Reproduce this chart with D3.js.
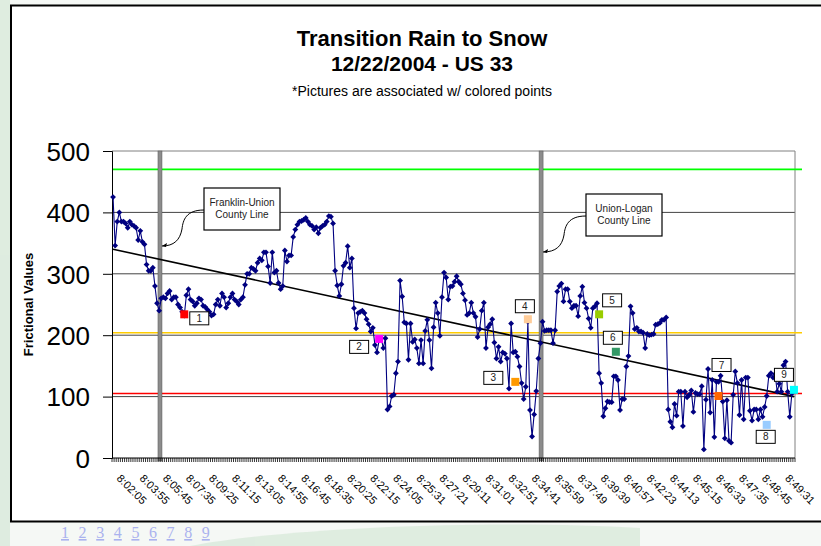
<!DOCTYPE html>
<html>
<head>
<meta charset="utf-8">
<title>Transition Rain to Snow</title>
<script src="https://cdn.jsdelivr.net/npm/d3@7"></script>
<style>
  html, body { margin:0; padding:0; overflow:hidden; background:#f5f8f5; }
  svg { display:block; font-family: Arial, "Liberation Sans", sans-serif; }
</style>
</head>
<body>
<svg width="821" height="546"></svg>
<script>
// friction readings, one per sample (10 s apart)
const frictionValues = [
  425, 346, 385, 400, 385, 385, 382, 375, 385, 380,
  378, 375, 355, 370, 352, 348, 315, 305, 305, 310,
  280, 252, 240, 260, 262, 260, 268, 272, 258, 262,
  262, 250, 245, 238, 232, 265, 275, 258, 255, 248,
  252, 260, 258, 248, 246, 242, 238, 232, 234, 250,
  258, 248, 268, 262, 245, 252, 262, 268, 258, 255,
  250, 258, 262, 282, 300, 300, 310, 308, 305, 318,
  325, 322, 335, 335, 312, 285, 335, 302, 305, 285,
  275, 280, 338, 320, 330, 330, 360, 372, 380, 385,
  386, 388, 391, 385, 380, 378, 372, 376, 366, 375,
  378, 380, 385, 394, 393, 382, 305, 281, 264, 283,
  313, 318, 345, 310, 325, 244, 211, 236, 238, 240,
  236, 226, 218, 206, 212, 184, 172, 192, 195, 179,
  195, 79, 84, 101, 103, 138, 157, 289, 263, 221,
  219, 160, 219, 189, 193, 179, 154, 192, 154, 207,
  225, 192, 146, 213, 253, 236, 199, 262, 302, 294,
  258, 279, 280, 287, 296, 287, 283, 268, 257, 233,
  236, 253, 236, 230, 197, 210, 240, 253, 179, 213,
  218, 226, 188, 162, 181, 157, 172, 170, 162, 113,
  219, 172, 173, 165, 149, 122, 96, 116, 222, 78,
  35, 71, 109, 162, 187, 222, 207, 208, 208, 208,
  187, 208, 271, 280, 284, 255, 275, 275, 255, 244,
  248, 248, 231, 264, 279, 253, 244, 227, 212, 244,
  247, 252, 138, 122, 68, 81, 92, 91, 91, 133,
  133, 127, 78, 96, 96, 149, 166, 247, 236, 210,
  212, 206, 206, 204, 179, 202, 200, 201, 202, 217,
  218, 220, 225, 225, 229, 79, 59, 50, 88, 69,
  108, 108, 52, 108, 99, 103, 110, 75, 106, 104,
  104, 117, 14, 95, 145, 74, 127, 34, 124, 124,
  134, 92, 32, 94, 28, 25, 103, 141, 122, 70,
  127, 63, 131, 131, 77, 61, 79, 79, 63, 79,
  67, 83, 101, 134, 138, 131, 137, 108, 121, 108,
  151, 157, 108, 67, 105
];
const categoryCount = 326;
const tickEvery = 11;
const tickLabels = [
  "8:02:05", "8:03:55", "8:05:45", "8:07:35", "8:09:25", "8:11:15", "8:13:05", "8:14:55",
  "8:16:45", "8:18:35", "8:20:25", "8:22:15", "8:24:05", "8:25:31", "8:27:21", "8:29:11",
  "8:31:01", "8:32:51", "8:34:41", "8:35:59", "8:37:49", "8:39:39", "8:40:57", "8:42:23",
  "8:44:13", "8:45:15", "8:46:33", "8:47:35", "8:48:45", "8:49:31"
];
const yTicks = [0, 100, 200, 300, 400, 500];
const thresholdValues = [470, 204, 105];
const thresholdColors = ["#00ff00", "#ffcc00", "#ff0000"];
const trendEnds = [340, 100];
const countyAt = [22.4, 204.3];
const countyNames = [["Franklin-Union", "County Line"], ["Union-Logan", "County Line"]];
const pictureIndex = [34, 127, 192, 198, 232, 240, 289, 312, 325];
const pictureValues = [234, 194, 124, 226, 234, 173, 101, 54, 111];
const pictureColors = ["#ff0000", "#ff00ff", "#ff9900", "#ffcc99", "#99cc00", "#339966", "#ff6600", "#99ccff", "#00ffff"];

// layout
const W = 821, H = 546;
const plot = { left: 112, right: 795, top: 151, bottom: 458 };
const labelOffsets = [[15, 4], [-20, 8], [-22, -4], [-3, -13], [13, -14], [-3, -14], [3, -31], [-1, 12], [-10, -15]];
const calloutBoxes = [{ x: 204, y: 188, w: 76, h: 42 }, { x: 586, y: 194, w: 76, h: 42 }];

const svg = d3.select("svg");

// faint watermark behind the frame
const wm = svg.append("g").attr("fill", "#d9eadb").attr("opacity", 0.8);
wm.append("rect").attr("x", 0).attr("y", 0).attr("width", 10).attr("height", H);
wm.append("path").attr("d", "M190,546 C300,525 520,520 640,528 L640,546 Z");
wm.append("path").attr("d", "M0,520 C40,480 60,470 10,440 Z");

// chart frame
svg.append("rect")
  .attr("x", 11).attr("y", 5.5).attr("width", 830).attr("height", 516)
  .attr("fill", "#fff").attr("stroke", "#000").attr("stroke-width", 2);

const x = d3.scaleLinear().domain([-0.5, categoryCount - 0.5]).range([plot.left, plot.right]);
const y = d3.scaleLinear().domain([0, 500]).range([plot.bottom, plot.top]);

// titles
const titles = svg.append("g").attr("text-anchor", "middle").attr("fill", "#000");
titles.append("text").attr("x", 422).attr("y", 46).attr("font-size", 22).attr("font-weight", "bold").text("Transition Rain to Snow");
titles.append("text").attr("x", 422).attr("y", 71).attr("font-size", 21).attr("font-weight", "bold").text("12/22/2004 - US 33");
titles.append("text").attr("x", 422).attr("y", 96).attr("font-size", 14).text("*Pictures are associated w/ colored points");

// gridlines + frame of plot area
svg.append("g").selectAll("line")
  .data(yTicks.filter(d => d > 0 && d < 500))
  .join("line")
  .attr("x1", plot.left).attr("x2", plot.right)
  .attr("y1", d => y(d)).attr("y2", d => y(d))
  .attr("stroke", "#444").attr("stroke-width", 1);
svg.append("path")
  .attr("d", `M${plot.left},${y(500)}H${plot.right}V${plot.bottom}`)
  .attr("fill", "none").attr("stroke", "#808080").attr("stroke-width", 1);

// threshold lines
svg.append("g").selectAll("line")
  .data(thresholdValues)
  .join("line")
  .attr("x1", plot.left).attr("x2", plot.right + 7)
  .attr("y1", d => y(d)).attr("y2", d => y(d))
  .attr("stroke", (d, i) => thresholdColors[i]).attr("stroke-width", 1.6);

// county lines
svg.append("g").selectAll("rect")
  .data(countyAt)
  .join("rect")
  .attr("x", d => x(d) - 2).attr("y", plot.top)
  .attr("width", 4).attr("height", plot.bottom - plot.top + 3)
  .attr("fill", "#8c8c8c").attr("stroke", "#555").attr("stroke-width", 0.5);

// axes
const yAxis = svg.append("g")
  .attr("transform", `translate(${plot.left},0)`)
  .call(d3.axisLeft(y).tickValues(yTicks).tickSize(9).tickPadding(13));
yAxis.select(".domain").attr("stroke", "#000");
yAxis.selectAll(".tick line").attr("stroke", "#000");
yAxis.selectAll(".tick text")
  .attr("font-size", 26).attr("font-family", "Arial, 'Liberation Sans', sans-serif")
  .attr("fill", "#000").attr("dy", "0.36em");

const xAxis = svg.append("g").attr("transform", `translate(0,${plot.bottom})`);
xAxis.append("line").attr("x1", plot.left).attr("x2", plot.right).attr("stroke", "#000");
xAxis.selectAll("line.minor")
  .data(d3.range(categoryCount + 1))
  .join("line").attr("class", "minor")
  .attr("x1", d => x(d - 0.5)).attr("x2", d => x(d - 0.5))
  .attr("y1", 0).attr("y2", 4)
  .attr("stroke", "#000").attr("stroke-width", 0.8);
xAxis.selectAll("text")
  .data(tickLabels)
  .join("text")
  .attr("transform", (d, i) => `translate(${x(i * tickEvery) + 3},${21}) rotate(45)`)
  .attr("font-size", 11)
  .attr("fill", "#000")
  .text(d => d);

svg.append("text")
  .attr("transform", `translate(33,${(plot.top + plot.bottom) / 2}) rotate(-90)`)
  .attr("text-anchor", "middle").attr("font-size", 13).attr("font-weight", "bold")
  .text("Frictional Values");

// trend line
svg.append("line")
  .attr("x1", x(0)).attr("y1", y(trendEnds[0]))
  .attr("x2", x(categoryCount - 1)).attr("y2", y(trendEnds[1]))
  .attr("stroke", "#000").attr("stroke-width", 1.6);

// friction series
const line = d3.line().x((d, i) => x(i)).y(d => y(d));
svg.append("path")
  .datum(frictionValues)
  .attr("d", line)
  .attr("fill", "none").attr("stroke", "#000080").attr("stroke-width", 1.1);
const diamond = d3.symbol(d3.symbolSquare, 17);
svg.append("g").selectAll("path")
  .data(frictionValues)
  .join("path")
  .attr("d", diamond)
  .attr("transform", (d, i) => `translate(${x(i)},${y(d)}) rotate(45)`)
  .attr("fill", "#000080");

// pictures: coloured squares + numbered labels
const pics = svg.append("g").selectAll("g")
  .data(pictureIndex.map((idx, k) => ({ idx, v: pictureValues[k], c: pictureColors[k], n: k + 1 })))
  .join("g");
pics.append("rect")
  .attr("x", d => x(d.idx) - 4).attr("y", d => y(d.v) - 4)
  .attr("width", 8).attr("height", 8)
  .attr("fill", d => d.c);
const lab = pics.append("g")
  .attr("transform", (d, k) => `translate(${x(d.idx) + labelOffsets[k][0]},${y(d.v) + labelOffsets[k][1]})`);
lab.append("rect")
  .attr("x", -9.5).attr("y", -6.5).attr("width", 19).attr("height", 13)
  .attr("fill", "#fff").attr("stroke", "#000").attr("stroke-width", 1);
lab.append("text")
  .attr("text-anchor", "middle").attr("dy", "0.36em")
  .attr("font-size", 10).attr("fill", "#222")
  .text(d => d.n);

// county line callouts
const callouts = svg.append("g").selectAll("g")
  .data(countyAt.map((at, k) => ({ at, names: countyNames[k], box: calloutBoxes[k] })))
  .join("g");
callouts.append("path")
  .attr("d", d => {
    const sx = d.box.x, sy = d.box.y + d.box.h / 2 + 1;
    const tx = x(d.at) + 2, ty = sy + 36;
    return `M${sx},${sy} C${sx - 18},${sy} ${sx - 21},${sy + 10} ${sx - 22},${sy + 19} C${sx - 24},${sy + 30} ${sx - 30},${ty} ${tx},${ty}`;
  })
  .attr("fill", "none").attr("stroke", "#000").attr("stroke-width", 1);
callouts.append("path")
  .attr("d", d => {
    const tx = x(d.at) + 2, ty = d.box.y + d.box.h / 2 + 37;
    return `M${tx},${ty} l5,-3 l-1,4 Z`;
  })
  .attr("fill", "#000");
callouts.append("rect")
  .attr("x", d => d.box.x).attr("y", d => d.box.y)
  .attr("width", d => d.box.w).attr("height", d => d.box.h)
  .attr("fill", "#fff").attr("stroke", "#000").attr("stroke-width", 1.2);
callouts.each(function (d) {
  d3.select(this).selectAll("text")
    .data(d.names)
    .join("text")
    .attr("x", d.box.x + d.box.w / 2)
    .attr("y", (t, j) => d.box.y + d.box.h / 2 - 3 + j * 12)
    .attr("text-anchor", "middle").attr("font-size", 10).attr("fill", "#222")
    .text(t => t);
});

// picture links under the frame
svg.append("g").selectAll("text")
  .data(pictureIndex.map((d, k) => String(k + 1)))
  .join("text")
  .attr("x", (d, k) => 61 + k * 17.6).attr("y", 538)
  .attr("font-family", "'Liberation Serif', 'Times New Roman', serif")
  .attr("font-size", 16).attr("fill", "#aab2ee")
  .attr("text-decoration", "underline")
  .text(d => d);
</script>
</body>
</html>
